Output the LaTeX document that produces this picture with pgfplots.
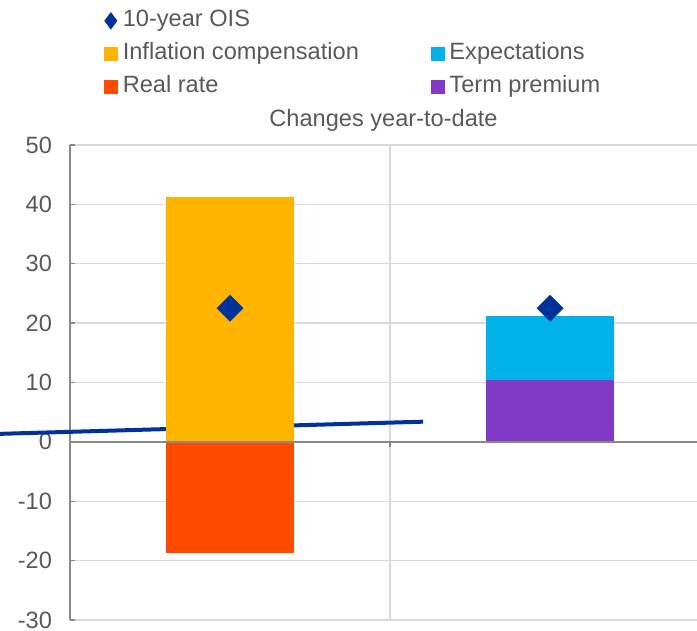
\documentclass[border=0pt]{standalone}
\usepackage{pgfplots}
\pgfplotsset{compat=1.18}
\usepackage{fontspec}
\setmainfont{Liberation Sans}
\definecolor{oisBlue}{HTML}{003299}
\definecolor{inflC}{HTML}{FFB400}
\definecolor{expC}{HTML}{00B1EA}
\definecolor{realC}{HTML}{FF4B00}
\definecolor{termC}{HTML}{8139C6}
\definecolor{txtC}{HTML}{595959}
\definecolor{gridC}{HTML}{D9D9D9}
\definecolor{axisC}{HTML}{898989}
\newcommand{\lblfont}{\fontsize{17.7}{20}\selectfont}
\pgfplotsset{
  sqleg/.style={legend image code/.code={\fill[##1] (0pt,-4.75pt) rectangle (9.5pt,4.75pt);}},
  dmleg/.style={legend image code/.code={\draw[##1] plot coordinates {(4.75pt,0pt)};}},
}

\begin{document}
\begin{tikzpicture}
\path[use as bounding box] (-52.5pt,-7.75pt) rectangle (470.25pt,465pt);
\begin{axis}[
  at={(0,0)}, anchor=south west,
  scale only axis, width=470.25pt, height=356.25pt,
  xmin=-0.5, xmax=1.459, ymin=-30, ymax=50,
  clip=false,
  axis lines*=left,
  x axis line style={draw=none},
  y axis line style={axisC, line width=1.1pt},
  xtick=\empty,
  extra x ticks={0.5}, extra x tick labels={},
  extra x tick style={grid=major, major tick length=0pt},
  ytick={-30,-20,...,50},
  ymajorgrids,
  grid style={gridC, line width=1.1pt},
  tick align=inside,
  major tick length=3.75pt,
  y tick style={axisC, line width=1.1pt},
  tick label style={font=\lblfont, text=txtC},
  /pgf/number format/assume math mode=true,
  yticklabel style={xshift=-10pt},
  title={Changes year-to-date},
  title style={at={(0.5,1)}, anchor=center, yshift=12.75pt, font=\lblfont, text=txtC},
  legend columns=2,
  legend style={at={(0,1)}, anchor=north west, xshift=25.5pt, yshift=101.3pt,
    draw=none, fill=none, inner sep=0pt, font=\lblfont, text=txtC,
    nodes={inner sep=0pt, anchor=west, text height=12.5pt, text depth=3.5pt},
    column sep=4pt, row sep=8.75pt,
    /tikz/every even column/.append style={column sep=54pt}},
]
% legend entries in the reference order
\addlegendimage{oisBlue, only marks, mark=diamond*, mark size=6.2pt, dmleg}
\addlegendentry{10-year OIS}
\addlegendimage{empty legend}
\addlegendentry{}
\addlegendimage{inflC, sqleg}
\addlegendentry{Inflation compensation}
\addlegendimage{expC, sqleg}
\addlegendentry{Expectations}
\addlegendimage{realC, sqleg}
\addlegendentry{Real rate}
\addlegendimage{termC, sqleg}
\addlegendentry{Term premium}

% stray line series (extends left of the axis in the original)
\addplot[oisBlue, line width=3pt, forget plot] coordinates {(-0.719,1.35) (0.603,3.4)};

% bars: expectations drawn to its cumulative top (10.4 + 10.8), term premium over it
\addplot[ybar, bar width=0.4, bar shift=0pt, fill=inflC, draw=none, forget plot] coordinates {(0,41.2)};
\addplot[ybar, bar width=0.4, bar shift=0pt, fill=realC, draw=none, forget plot] coordinates {(0,-18.7)};
\addplot[ybar, bar width=0.4, bar shift=0pt, fill=expC, draw=none, forget plot] coordinates {(1,21.2)};
\addplot[ybar, bar width=0.4, bar shift=0pt, fill=termC, draw=none, forget plot] coordinates {(1,10.4)};

% 10-year OIS
\addplot[only marks, mark=square*, mark size=6.9pt, mark options={rotate=45, fill=oisBlue, draw=oisBlue}, forget plot]
  coordinates {(0,22.5) (1,22.5)};

% zero line
\draw[axisC, line width=1.3pt] ({rel axis cs:0,0}|-{axis cs:0,0}) -- ({rel axis cs:1,0}|-{axis cs:0,0});
\draw[axisC, line width=1.1pt] (axis cs:0.5,0) -- ++(0pt,-3.75pt);
\end{axis}
\end{tikzpicture}
\end{document}
